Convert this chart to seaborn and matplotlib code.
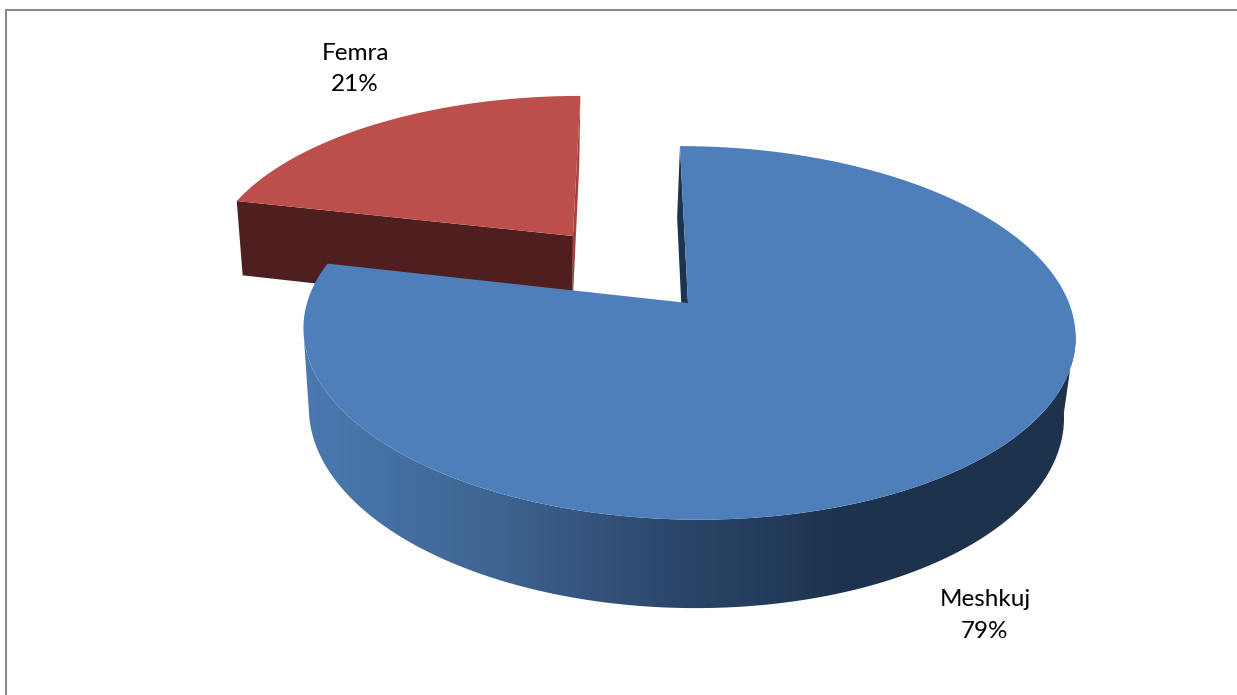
import matplotlib

matplotlib.use("Agg")

import matplotlib.pyplot as plt
import numpy as np
import seaborn as sns
from matplotlib.lines import Line2D
from matplotlib.patches import Polygon

labels = ["Meshkuj", "Femra"]
shares = [78.6, 21.4]
explode = [0, 0.5]
top_colors = ["#4f7fba", "#bc4f4c"]
cut_colors = ["#1d3450", "#4e1f1e"]
inner_colors = ["#1d3450", "#a5403e"]
label_spots = [(985, 615.5), (355, 69)]

# perspective of the tilted pie, in pixels
X0, Y0 = 688, 303
A, B, SHEAR = 381, 182, -9.3
K = 0.16
DROP, SHRINK, SLIDE = 81, 0.022, -3


def project(u, v, z=0):
    w = 1 + K * v + SHRINK * z
    return X0 + (A * u + SHEAR * v) / w + SLIDE * z, Y0 + (-B * v + DROP * z) / w


def rim(wedge, theta1, theta2, z=0, n=2):
    cx, cy = wedge.center
    t = np.radians(np.linspace(theta1, theta2, n))
    return project(cx + wedge.r * np.cos(t), cy + wedge.r * np.sin(t), z)


def face(ax, wedge, theta, color):
    cx, cy = wedge.center
    xa, ya = project(cx, cy)
    xb, yb = project(cx, cy, 1)
    xo, yo = rim(wedge, theta, theta, n=1)
    xp, yp = rim(wedge, theta, theta, z=1, n=1)
    pts = [(xa, ya), (xo[0], yo[0]), (xp[0], yp[0]), (xb, yb)]
    ax.add_patch(Polygon(pts, facecolor=color, edgecolor="none"))


def top(ax, wedge, color):
    cx, cy = wedge.center
    x, y = rim(wedge, wedge.theta1, wedge.theta2, n=300)
    pts = np.vstack([[project(cx, cy)], np.column_stack([x, y])])
    ax.add_patch(Polygon(pts, facecolor=color, edgecolor="none"))


sns.set_theme(style="white")
plt.rcParams["font.family"] = ["Lato", "DejaVu Sans"]

fig = plt.figure(figsize=(12.37, 6.95), dpi=100)
ax = fig.add_axes([0, 0, 1, 1])
wedges, _ = ax.pie(shares, explode=explode, startangle=90, counterclock=False, colors=top_colors)
for w in wedges:
    w.set_visible(False)

blue, red = wedges

# exploded slice goes behind
face(ax, red, red.theta1, inner_colors[1])
face(ax, red, red.theta2, cut_colors[1])
top(ax, red, top_colors[1])

# blue slice: inner face, shaded outer wall, then the top
face(ax, blue, blue.theta2, inner_colors[0])

shade = sns.blend_palette(["#4a78af", "#3f6593", "#2c476c", "#1d324d"], 256)
# wall runs between the two silhouette points of the ellipse
xt, yt = rim(blue, -171, -9, n=300)
xb, yb = rim(blue, -171, -9, z=1, n=300)
wall = np.vstack([np.column_stack([xt, yt]), np.column_stack([xb, yb])[::-1]])
im = ax.imshow([shade], extent=(310, 850, 695, 0), aspect="auto", zorder=1, interpolation="bilinear")
# stretch the last shades out to the sides of the wall
left = ax.imshow([[shade[0]]], extent=(290, 310, 695, 0), aspect="auto", zorder=1)
right = ax.imshow([[shade[-1]]], extent=(850, 1100, 695, 0), aspect="auto", zorder=1)
for piece in (im, left, right):
    piece.set_clip_path(Polygon(wall, transform=ax.transData))
top(ax, blue, top_colors[0])

ax.set_aspect("auto")
ax.set_xlim(0, 1237)
ax.set_ylim(695, 0)

for name, share, (x, y) in zip(labels, shares, label_spots):
    ax.text(x, y, f"{name}\n{share:.0f}%", ha="center", va="center", fontsize=17.5, color="black", linespacing=1.6)

# chart area border, only top and left show in the crop
fig.add_artist(Line2D([5.5 / 1237, 1], [1 - 9.5 / 695] * 2, color="#8c8c8c", linewidth=1.5))
fig.add_artist(Line2D([5.5 / 1237] * 2, [1 - 9.5 / 695, 0], color="#8c8c8c", linewidth=1.5))

fig.savefig("out.png", dpi=100)
plt.close(fig)
